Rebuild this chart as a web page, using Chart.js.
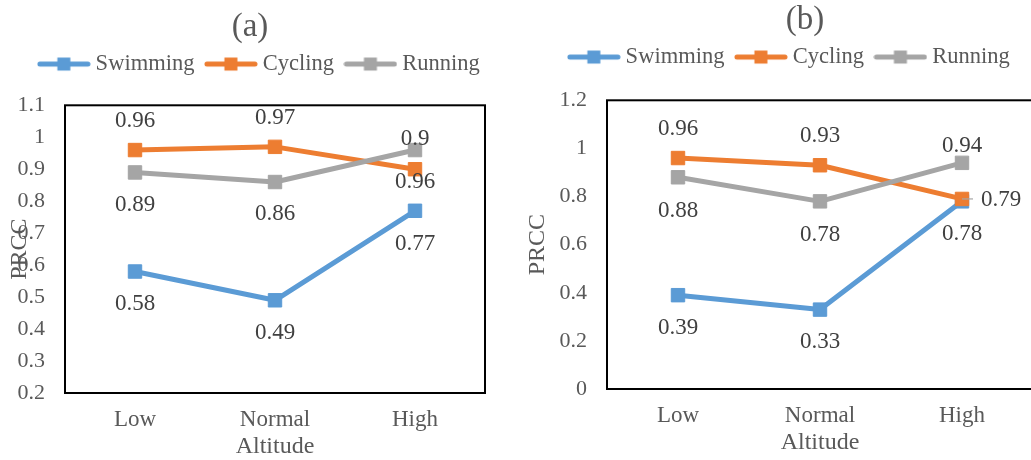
<!DOCTYPE html>
<html>
<head>
<meta charset="utf-8">
<script src="https://cdn.jsdelivr.net/npm/chart.js@4.4.0/dist/chart.umd.min.js"></script>
<style>
html, body { margin: 0; padding: 0; background: #fff; overflow: hidden; width: 1031px; height: 460px; }
#wrapA { position: absolute; left: 0; top: 0; }
#wrapB { position: absolute; left: 520px; top: 0; }
</style>
</head>
<body>
<div id="wrapA"><canvas id="chartA" width="500" height="460"></canvas></div>
<div id="wrapB"><canvas id="chartB" width="570" height="460"></canvas></div>
<script>
const categories = ['Low', 'Normal', 'High'];
const seriesNames = ['Swimming', 'Cycling', 'Running'];

// panel (a)
const swimmingA = [0.58, 0.49, 0.77];
const cyclingA = [0.96, 0.97, 0.9];
const runningA = [0.89, 0.86, 0.96];
const yTicksA = [0.2, 0.3, 0.4, 0.5, 0.6, 0.7, 0.8, 0.9, 1, 1.1];

// panel (b)
const swimmingB = [0.39, 0.33, 0.78];
const cyclingB = [0.96, 0.93, 0.79];
const runningB = [0.88, 0.78, 0.94];
const yTicksB = [0, 0.2, 0.4, 0.6, 0.8, 1, 1.2];

const colors = ['#5B9BD5', '#ED7D31', '#A5A5A5'];
const serif = "'Liberation Serif', 'Times New Roman', serif";

Chart.defaults.font.family = serif;
Chart.defaults.color = '#595959';

// line with a square in the middle, like the excel legend key
function legendKey(color) {
  const c = document.createElement('canvas');
  c.width = 54; c.height = 16;
  const g = c.getContext('2d');
  g.strokeStyle = color; g.lineWidth = 5; g.lineCap = 'round';
  g.beginPath(); g.moveTo(3, 8); g.lineTo(51, 8); g.stroke();
  g.fillStyle = color;
  g.fillRect(20.5, 1.5, 13, 13);
  return c;
}

// extra room under the legend + nudge title/legend sideways
const spacing = {
  id: 'spacing',
  beforeInit(chart, args, opts) {
    const legend = chart.legend;
    const fit = legend.fit;
    legend.fit = function () { fit.call(this); this.height += opts.gap; };
  },
  afterLayout(chart, args, opts) {
    chart.titleBlock.left += opts.titleShift; chart.titleBlock.right += opts.titleShift;
    chart.legend.left += opts.legendShift; chart.legend.right += opts.legendShift;
  }
};

const plotBox = {
  id: 'plotBox',
  beforeDatasetsDraw(chart) {
    const {ctx, chartArea: a} = chart;
    ctx.save();
    ctx.lineWidth = 2;
    ctx.strokeStyle = '#000';
    ctx.strokeRect(a.left, a.top, a.right - a.left, a.bottom - a.top);
    ctx.restore();
  }
};

const pointLabels = {
  id: 'pointLabels',
  afterDatasetsDraw(chart, args, opts) {
    const ctx = chart.ctx;
    ctx.save();
    ctx.font = '23px ' + serif;
    ctx.fillStyle = '#404040';
    ctx.textAlign = 'center';
    ctx.textBaseline = 'middle';
    chart.data.datasets.forEach((ds, di) => {
      const meta = chart.getDatasetMeta(di);
      const offs = opts.offsets[ds.label];
      meta.data.forEach((pt, i) => {
        const [dx, dy] = offs[i];
        if (dx > 20) {
          ctx.strokeStyle = '#A6A6A6'; ctx.lineWidth = 1.2;
          ctx.beginPath(); ctx.moveTo(pt.x, pt.y); ctx.lineTo(pt.x + dx - 28, pt.y); ctx.stroke();
        }
        ctx.fillText(String(ds.data[i]), pt.x + dx, pt.y + dy);
      });
    });
    ctx.restore();
  }
};

function makeChart(id, p) {
  const datasets = p.series.map((values, i) => ({
    label: seriesNames[i],
    data: values,
    borderColor: colors[i],
    backgroundColor: colors[i],
    borderWidth: 5,
    borderJoinStyle: 'round',
    borderCapStyle: 'round',
    pointStyle: 'rect',
    pointRadius: 9.5,
    pointBorderWidth: 1,
    tension: 0,
    order: 2 - i
  }));

  return new Chart(document.getElementById(id), {
    type: 'line',
    data: { labels: categories, datasets: datasets },
    plugins: [spacing, plotBox, pointLabels],
    options: {
      responsive: false,
      animation: false,
      events: [],
      layout: { padding: { left: 0, top: 0, right: p.padRight, bottom: p.padBottom } },
      plugins: {
        title: {
          display: true,
          text: p.title,
          color: '#595959',
          font: { size: 33, weight: 'normal', lineHeight: 0.6 },
          padding: { top: p.titlePadTop, bottom: 0 }
        },
        legend: {
          labels: {
            usePointStyle: true,
            pointStyleWidth: 41,
            padding: 16,
            color: '#595959',
            font: { size: 22.5 },
            sort: (a, b) => a.datasetIndex - b.datasetIndex,
            generateLabels: chart => Chart.defaults.plugins.legend.labels.generateLabels(chart)
              .map(item => Object.assign(item, { pointStyle: legendKey(colors[item.datasetIndex]) }))
          }
        },
        tooltip: { enabled: false },
        spacing: { gap: p.legendGap, titleShift: p.titleShift, legendShift: p.legendShift },
        pointLabels: { offsets: p.labelOffsets }
      },
      scales: {
        x: {
          offset: true,
          grid: { display: false, drawTicks: false },
          border: { display: false },
          ticks: { padding: 13, color: '#595959', font: { size: 23 } },
          title: { display: true, text: 'Altitude', color: '#595959', font: { size: 24, lineHeight: 1 }, padding: { top: 0, bottom: 1 } },
          afterFit: s => { s.height = 67; }
        },
        y: {
          min: p.yTicks[0],
          max: p.yTicks[p.yTicks.length - 1],
          grid: { display: false, drawTicks: false },
          border: { display: false },
          afterBuildTicks: s => { s.ticks = p.yTicks.map(v => ({ value: v })); },
          ticks: { padding: 20, color: '#595959', font: { size: 22 }, callback: v => String(v) },
          title: { display: true, text: 'PRCC', color: '#595959', font: { size: 24, lineHeight: 1 }, padding: { top: p.yTitlePad, bottom: 0 } },
          afterFit: s => { s.width = p.yWidth; }
        }
      }
    }
  });
}

makeChart('chartA', {
  title: '(a)',
  series: [swimmingA, cyclingA, runningA],
  yTicks: yTicksA,
  yWidth: 65,
  yTitlePad: 8,
  padRight: 15,
  padBottom: 0,
  titlePadTop: 17,
  legendGap: 20,
  titleShift: 7.5,
  legendShift: 19,
  labelOffsets: {
    Swimming: [[0, 32], [0, 33], [0, 33]],
    Cycling: [[0, -29], [0, -29], [0, -30]],
    Running: [[0, 33], [0, 32], [0, 32]]
  }
});

makeChart('chartB', {
  title: '(b)',
  series: [swimmingB, cyclingB, runningB],
  yTicks: yTicksB,
  yWidth: 87,
  yTitlePad: 5.5,
  padRight: 57,
  padBottom: 4,
  titlePadTop: 10,
  legendGap: 22,
  titleShift: 28.5,
  legendShift: 15,
  labelOffsets: {
    Swimming: [[0, 33], [0, 32], [0, 33]],
    Cycling: [[0, -29], [0, -29], [39, 1]],
    Running: [[0, 34], [0, 34], [0, -17]]
  }
});
</script>
</body>
</html>
